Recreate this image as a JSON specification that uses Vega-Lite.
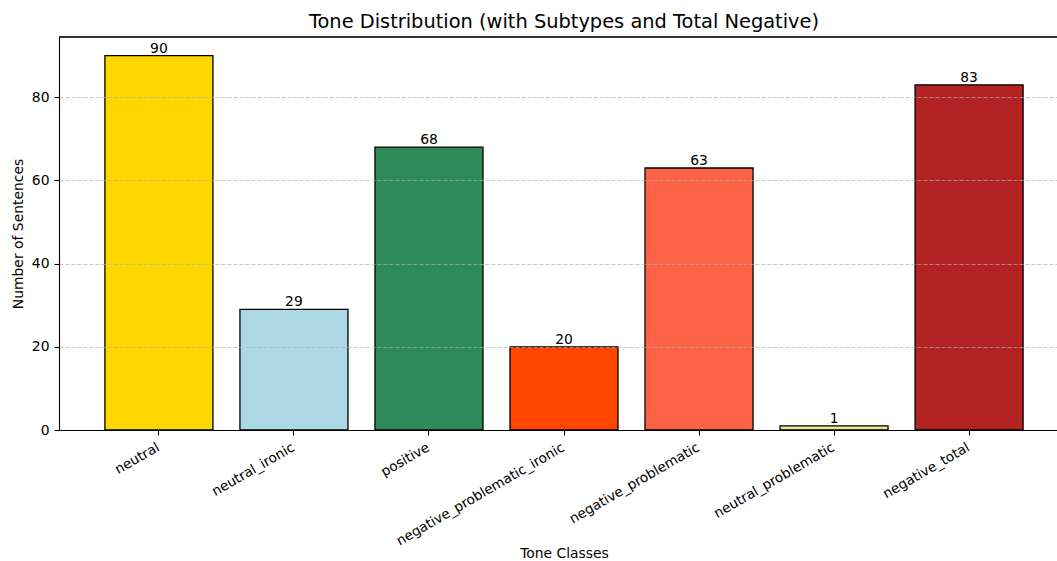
{
  "$schema": "https://vega.github.io/schema/vega-lite/v6.json",
  "width": 998,
  "height": 393,
  "autosize": "none",
  "padding": {"left": 59, "top": 37, "right": 0, "bottom": 131},
  "background": "white",
  "title": {
    "text": "Tone Distribution (with Subtypes and Total Negative)",
    "font": "DejaVu Sans",
    "fontSize": 19.4,
    "fontWeight": "normal",
    "color": "black",
    "anchor": "middle",
    "dx": 6,
    "offset": 4
  },
  "data": {
    "values": [
      {"tone": "neutral", "count": 90},
      {"tone": "neutral_ironic", "count": 29},
      {"tone": "positive", "count": 68},
      {"tone": "negative_problematic_ironic", "count": 20},
      {"tone": "negative_problematic", "count": 63},
      {"tone": "neutral_problematic", "count": 1},
      {"tone": "negative_total", "count": 83}
    ]
  },
  "layer": [
    {
      "mark": {"type": "bar", "stroke": "black", "strokeWidth": 1.3},
      "encoding": {
        "x": {
          "field": "tone",
          "type": "nominal",
          "sort": null,
          "scale": {"range": [0, 1010], "paddingInner": 0.2, "paddingOuter": 0.34},
          "axis": {
            "title": "Tone Classes",
            "labelAngle": -30,
            "labelAlign": "right",
            "labelBaseline": "top",
            "labelLimit": 0,
            "labelOffset": -4,
            "zindex": 2,
            "tickSize": 5,
            "tickWidth": 1.1,
            "tickColor": "black",
            "domainColor": "black",
            "domainWidth": 1.1,
            "labelPadding": 5,
            "labelFont": "DejaVu Sans",
            "labelFontSize": 13.6,
            "labelColor": "black",
            "titleFont": "DejaVu Sans",
            "titleFontSize": 13.9,
            "titleFontWeight": "normal",
            "titleColor": "black",
            "titlePadding": -1,
            "grid": false
          }
        },
        "y": {
          "field": "count",
          "type": "quantitative",
          "scale": {"domain": [0, 94.5], "nice": false},
          "axis": {
            "title": "Number of Sentences",
            "values": [0, 20, 40, 60, 80],
            "grid": true,
            "gridDash": [4, 2],
            "gridColor": "#b0b0b0",
            "gridOpacity": 0.7,
            "gridWidth": 1.1,
            "zindex": 1,
            "tickSize": 5,
            "tickWidth": 1.1,
            "tickColor": "black",
            "domainColor": "black",
            "domainWidth": 1.1,
            "labelPadding": 5,
            "labelFont": "DejaVu Sans",
            "labelFontSize": 13.9,
            "labelColor": "black",
            "titleFont": "DejaVu Sans",
            "titleFontSize": 13.9,
            "titleFontWeight": "normal",
            "titleColor": "black",
            "titlePadding": 6
          }
        },
        "color": {
          "field": "tone",
          "type": "nominal",
          "legend": null,
          "scale": {
            "domain": ["neutral", "neutral_ironic", "positive", "negative_problematic_ironic", "negative_problematic", "neutral_problematic", "negative_total"],
            "range": ["#FFD700", "#ADD8E6", "#2E8B57", "#FF4500", "#FF6347", "#F0E68C", "#B22222"]
          }
        }
      }
    },
    {
      "mark": {"type": "text", "font": "DejaVu Sans", "fontSize": 13.9, "color": "black", "baseline": "alphabetic", "dy": -3},
      "encoding": {
        "x": {"field": "tone", "type": "nominal", "sort": null},
        "y": {"field": "count", "type": "quantitative"},
        "text": {"field": "count", "type": "quantitative"}
      }
    },
    {
      "mark": {"type": "rule", "color": "#333333", "strokeWidth": 1},
      "encoding": {"y": {"datum": 94.5}}
    }
  ],
  "config": {"view": {"stroke": null}}
}
